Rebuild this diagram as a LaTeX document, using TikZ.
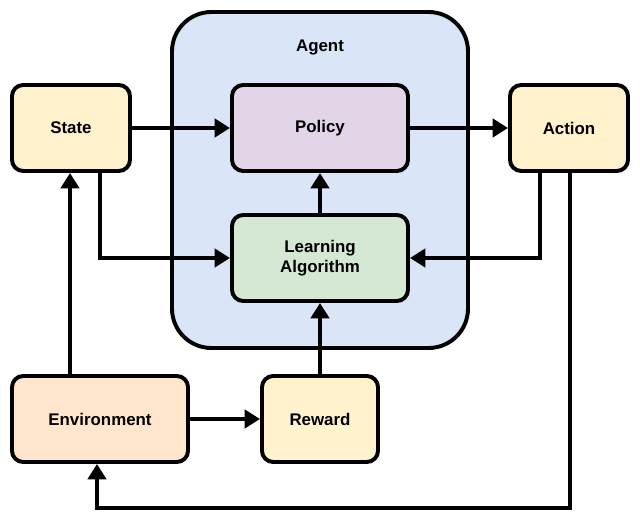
\documentclass[tikz,border=0pt]{standalone}
\usepackage{fontspec}
\setmainfont{Liberation Sans}
\usetikzlibrary{calc}
\usetikzlibrary{positioning}
\usetikzlibrary{arrows.meta}

\definecolor{agentblue}{RGB}{218,230,248}
\definecolor{boxyellow}{RGB}{255,242,204}
\definecolor{boxpurple}{RGB}{225,213,231}
\definecolor{boxgreen}{RGB}{213,232,212}
\definecolor{boxorange}{RGB}{255,230,204}

\tikzset{
  block/.style={draw=black, line width=2.8pt, rounded corners=8pt, align=center,
    font=\bfseries\fontsize{12}{14}\selectfont, minimum height=2.15cm},
  flow/.style={line width=2.8pt, -{Triangle[length=11pt,width=13pt]}}
}

\begin{document}
\begin{tikzpicture}[x=0.025cm,y=-0.025cm]
\useasboundingbox (0,0) rectangle (640,523);

\draw[line width=2.8pt, fill=agentblue, rounded corners=28pt] (172,12) rectangle (468,348);
\node[font=\bfseries\fontsize{12}{14}\selectfont] (agent) at (320,47) {Agent};

\node[block, fill=boxyellow, minimum width=2.95cm] (state) at (71,128) {State};
\node[block, fill=boxpurple, minimum width=4.4cm] (policy) at (320,128) {Policy};
\node[block, fill=boxyellow, minimum width=2.95cm] (action) at (569,128) {Action};
\node[block, fill=boxgreen, minimum width=4.4cm] (learn) at (320,258) {Learning\\Algorithm};
\node[block, fill=boxorange, minimum width=4.4cm] (env) at (100,419) {Environment};
\node[block, fill=boxyellow, minimum width=2.9cm] (reward) at (320,419) {Reward};

\draw[flow] (state.south -| 100,0) |- (learn.west);
\draw[flow] (action.south -| 540,0) |- (learn.east);
\draw[flow] (state) -- (policy);
\draw[flow] (policy) -- (action);
\draw[flow] (learn) -- (policy);
\draw[flow] (env.north -| 70,0) -- (state.south -| 70,0);
\draw[flow] (env) -- (reward);
\draw[flow] (reward) -- (learn);
\draw[flow] (action.south -| 570,0) |- (97,508) -- (env.south -| 97,0);
\end{tikzpicture}
\end{document}
